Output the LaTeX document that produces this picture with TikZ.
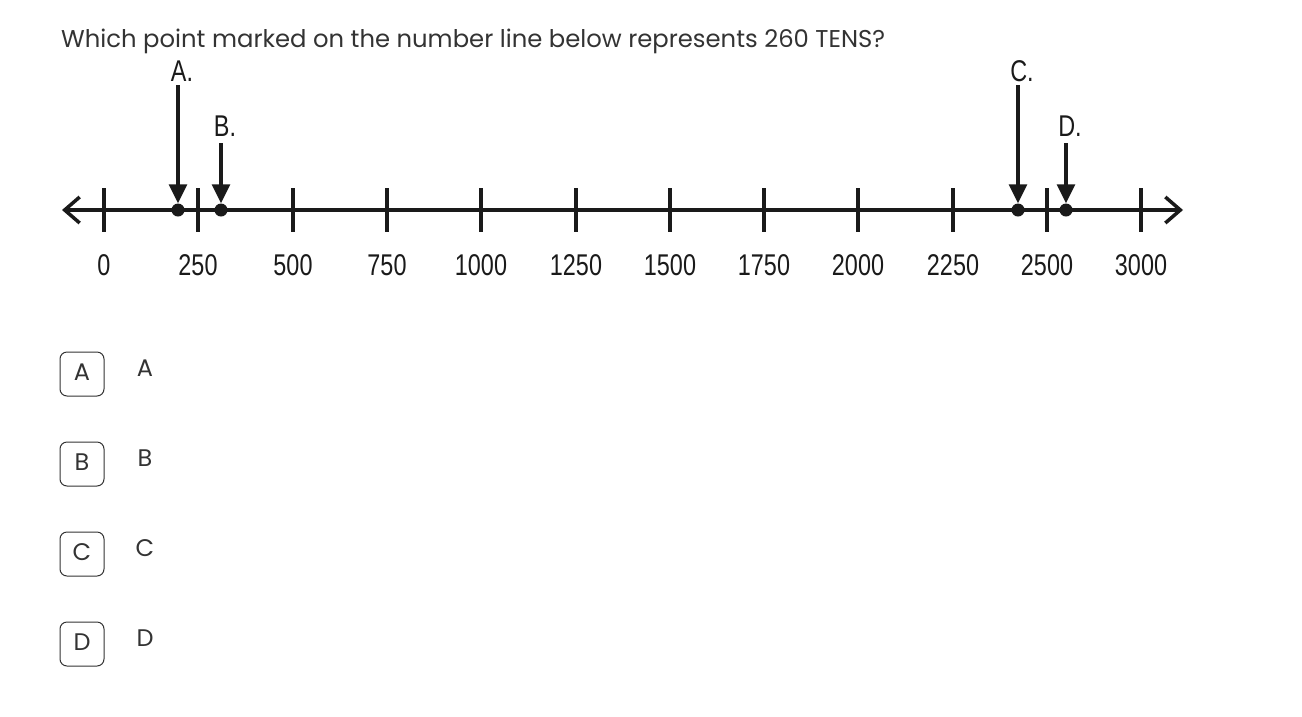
\documentclass[tikz,border=0pt]{standalone}
\usepackage{fontspec}
\setmainfont{Poppins}
\newfontfamily\nlfont[FakeStretch=0.78]{Liberation Sans}
\usetikzlibrary{arrows.meta}
\definecolor{txt}{HTML}{333333}
\definecolor{ink}{HTML}{1A1A1A}
\tikzset{
  nline/.style={line width=3.5pt, draw=ink, {Straight Barb[length=15pt,width=26pt,line width=3.5pt]}-{Straight Barb[length=15pt,width=26pt,line width=3.5pt]}},
  tickmark/.style={line width=3.5pt, draw=ink},
  dotpt/.style={circle, fill=ink, inner sep=0pt, minimum size=13pt},
  ptlabel/.style={font=\nlfont\fontsize{30}{32}\selectfont, text=ink, inner sep=0pt},
  numlabel/.style={font=\nlfont\fontsize{30}{32}\selectfont, text=ink, inner sep=0pt},
  pointer/.style={line width=3.2pt, draw=ink, -{Triangle[length=19pt,width=18pt]}},
  choicebox/.style={draw=txt, line width=1pt, rounded corners=7pt, minimum size=44pt, inner sep=0pt},
  choicetext/.style={font=\fontsize{24}{28}\selectfont, text=txt, inner sep=0pt},
}
\begin{document}
\begin{tikzpicture}[x=1pt,y=-1pt]
\useasboundingbox (0,0) rectangle (1302,716);
% title
\node[anchor=base west, inner sep=0pt, text=txt, font=\fontsize{24.3}{28}\selectfont] (title) at (61,47) {Which point marked on the number line below represents 260 TENS?};
% number line
\coordinate (L) at (62,210);
\coordinate (R) at (1183,210);
\draw[nline] (L) -- (R);
\foreach \x/\lab [count=\i] in {104/0,198/250,293/500,387/750,481/1000,576/1250,670/1500,764/1750,858/2000,953/2250,1047/2500,1141/3000}{
  \coordinate (t\i) at (\x,188);
  \coordinate (b\i) at (\x,232);
  \draw[tickmark] (t\i) -- (b\i);
  \node[numlabel] (n\i) at (\x,265) {\lab};
}
% points
\node[dotpt] (pA) at (178,210) {};
\node[dotpt] (pB) at (221,210) {};
\node[dotpt] (pC) at (1018,210) {};
\node[dotpt] (pD) at (1066,210) {};
\node[ptlabel] (lA) at (182,71) {A.};
\node[ptlabel] (lB) at (225,126) {B.};
\node[ptlabel] (lC) at (1022,71) {C.};
\node[ptlabel] (lD) at (1070,126) {D.};
\coordinate (sA) at (178,85);
\coordinate (sB) at (221,143);
\coordinate (sC) at (1018,85);
\coordinate (sD) at (1066,143);
\draw[pointer] (sA) -- (pA.north);
\draw[pointer] (sB) -- (pB.north);
\draw[pointer] (sC) -- (pC.north);
\draw[pointer] (sD) -- (pD.north);
% choices
\foreach \l/\y in {A/374,B/464,C/554,D/644}{
  \node[choicebox] (c\l) at (82,\y) {};
  \node[choicetext] (i\l) at (82,\y-2) {\l};
  \node[choicetext] (t\l) at (145,\y-5.5) {\l};
}
\end{tikzpicture}
\end{document}
